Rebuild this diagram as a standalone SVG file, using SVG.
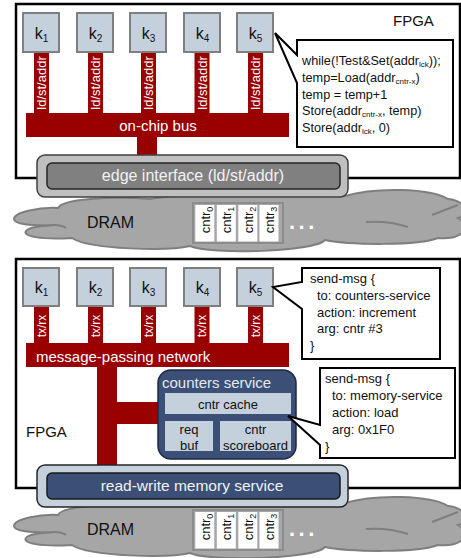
<svg xmlns="http://www.w3.org/2000/svg" width="461" height="558" viewBox="0 0 461 558">
  <style>
    text { font-family: "Liberation Sans", Arial, sans-serif; }
    .frame { fill: #ffffff; stroke: #000000; stroke-width: 2.5; }
    .kbox { fill: #c4d0dc; stroke: #7f7f7f; stroke-width: 2; }
    .ktxt { font-size: 16px; fill: #111111; text-anchor: middle; }
    .red { fill: #990000; }
    .stem { font-size: 13px; fill: #ffffff; text-anchor: middle; }
    .bar { font-size: 15px; fill: #ffffff; }
    .callout { fill: #ffffff; stroke: #000000; stroke-width: 2; stroke-linejoin: miter; }
    .code { font-size: 13px; fill: #111111; }
    .code-sm { font-size: 12.7px; fill: #111111; }
    .label { font-size: 15px; fill: #111111; }
    .cloud { fill: #a6a6a6; stroke: #7f7f7f; stroke-width: 2; }
    .fold { fill: none; stroke: #7f7f7f; stroke-width: 2; }
    .cbox { fill: #ffffff; }
    .ctxt { font-size: 13px; fill: #111111; text-anchor: middle; }
    .svc { fill: #3b4f77; stroke: #1c2a44; stroke-width: 1.5; }
    .lite { fill: #c4d0dc; }
    .svtxt { font-size: 13px; fill: #111111; text-anchor: middle; }
  </style>
  <defs>
    <!-- DRAM cloud with its counter slots, reused by both panels -->
    <g id="dram">
      <path class="cloud" d="M 14 219 C 14 212, 40 207, 58 208 C 62 199, 110 196, 150 199 C 180 193, 320 192, 345 196 C 375 187, 430 188, 448 199 C 466 201, 470 214, 458 218 C 472 226, 464 240, 438 238 C 418 246, 350 245, 325 240 C 315 252, 210 255, 190 246 C 170 251, 90 250, 72 238 C 40 240, 22 236, 26 231 C 28 227, 40 226, 55 225 C 30 226, 14 224, 14 219 Z"/>
      <path class="fold" d="M 55 225 C 60 225, 63 226, 66 228"/>
      <path class="fold" d="M 366 222 C 380 221, 396 223, 408 227"/>
      <path class="fold" d="M 432 215 C 440 212, 450 208, 458 205"/>
      <text class="label" x="87" y="228" style="font-size:16px">DRAM</text>
      <rect x="193" y="203" width="90" height="40" fill="#a6a6a6" stroke="#8c8c8c" stroke-width="2"/>
      <rect class="cbox" x="195.3" y="205" width="19" height="36.5"/>
      <rect class="cbox" x="216.8" y="205" width="19" height="36.5"/>
      <rect class="cbox" x="238.3" y="205" width="19" height="36.5"/>
      <rect class="cbox" x="259.5" y="205" width="19" height="36.5"/>
      <text class="ctxt" transform="translate(209.8,220) rotate(-90)">cntr<tspan font-size="9" dy="3">0</tspan></text>
      <text class="ctxt" transform="translate(231.3,220) rotate(-90)">cntr<tspan font-size="9" dy="3">1</tspan></text>
      <text class="ctxt" transform="translate(252.8,220) rotate(-90)">cntr<tspan font-size="9" dy="3">2</tspan></text>
      <text class="ctxt" transform="translate(274,220) rotate(-90)">cntr<tspan font-size="9" dy="3">3</tspan></text>
      <text x="289" y="229" font-size="22" font-weight="bold" fill="#ffffff" letter-spacing="3.5">...</text>
    </g>
  </defs>

  <!-- ===== Top: shared-memory counter over an on-chip bus ===== -->
  <g id="fpga-top">
    <rect class="frame" x="16" y="4" width="444" height="174"/>
    <text class="label" x="393" y="26">FPGA</text>
  </g>

  <g id="connectors-top">
    <rect class="red" x="34" y="52" width="15" height="62"/>
    <rect class="red" x="88" y="52" width="15" height="62"/>
    <rect class="red" x="141" y="52" width="15" height="62"/>
    <rect class="red" x="194.5" y="52" width="15" height="62"/>
    <rect class="red" x="248" y="52" width="15" height="62"/>
    <text class="stem" transform="translate(46,83) rotate(-90)">ld/st/addr</text>
    <text class="stem" transform="translate(100,83) rotate(-90)">ld/st/addr</text>
    <text class="stem" transform="translate(153,83) rotate(-90)">ld/st/addr</text>
    <text class="stem" transform="translate(206.5,83) rotate(-90)">ld/st/addr</text>
    <text class="stem" transform="translate(260,83) rotate(-90)">ld/st/addr</text>
    <rect class="red" x="137" y="136" width="20" height="21"/>
  </g>

  <g id="bus-top">
    <rect class="red" x="26" y="113" width="263" height="24"/>
    <text class="bar" x="158" y="131" text-anchor="middle">on-chip bus</text>
  </g>

  <g id="k1-top"><rect class="kbox" x="23" y="13" width="36" height="39"/><text class="ktxt" x="41.5" y="39">k<tspan font-size="10" dy="3">1</tspan></text></g>
  <g id="k2-top"><rect class="kbox" x="77" y="13" width="36" height="39"/><text class="ktxt" x="95.5" y="39">k<tspan font-size="10" dy="3">2</tspan></text></g>
  <g id="k3-top"><rect class="kbox" x="130" y="13" width="36" height="39"/><text class="ktxt" x="148.5" y="39">k<tspan font-size="10" dy="3">3</tspan></text></g>
  <g id="k4-top"><rect class="kbox" x="184" y="13" width="36" height="39"/><text class="ktxt" x="202.5" y="39">k<tspan font-size="10" dy="3">4</tspan></text></g>
  <g id="k5-top"><rect class="kbox" x="237" y="13" width="36" height="39"/><text class="ktxt" x="255.5" y="39">k<tspan font-size="10" dy="3">5</tspan></text></g>

  <g id="callout-lock">
    <path class="callout" d="M 297 40 H 453 V 147 H 297 V 83 L 275 33 L 297 55 Z"/>
    <text class="code-sm" x="302" y="65">while(!Test&amp;Set(addr<tspan font-size="8" dy="2">lck</tspan><tspan dy="-2">));</tspan></text>
    <text class="code-sm" x="302" y="82">temp=Load(addr<tspan font-size="8" dy="2">cntr-x</tspan><tspan dy="-2">)</tspan></text>
    <text class="code-sm" x="302" y="99">temp = temp+1</text>
    <text class="code-sm" x="302" y="115">Store(addr<tspan font-size="8" dy="2">cntr-x</tspan><tspan dy="-2">, temp)</tspan></text>
    <text class="code-sm" x="302" y="132">Store(addr<tspan font-size="8" dy="2">lck</tspan><tspan dy="-2">, 0)</tspan></text>
  </g>

  <g id="dram-top"><use href="#dram"/></g>

  <g id="edge-interface">
    <rect x="37" y="155" width="311" height="42" rx="8" fill="#bfbfbf" stroke="#404040" stroke-width="1.5"/>
    <rect x="47" y="163" width="293" height="26" rx="5" fill="#808080" stroke="#262626" stroke-width="1.5"/>
    <text x="193" y="181" font-size="16" fill="#f2f2f2" text-anchor="middle">edge interface (ld/st/addr)</text>
  </g>

  <!-- ===== Bottom: message passing to a counters service ===== -->
  <g id="fpga-bottom">
    <rect class="frame" x="16" y="259" width="444" height="229"/>
    <text class="label" x="26" y="437">FPGA</text>
  </g>

  <g id="connectors-bottom">
    <rect class="red" x="34" y="306" width="15" height="38"/>
    <rect class="red" x="88" y="306" width="15" height="38"/>
    <rect class="red" x="141" y="306" width="15" height="38"/>
    <rect class="red" x="194.5" y="306" width="15" height="38"/>
    <rect class="red" x="248" y="306" width="15" height="38"/>
    <text class="stem" style="font-size:12px" transform="translate(45.5,326) rotate(-90)">tx/rx</text>
    <text class="stem" style="font-size:12px" transform="translate(99.5,326) rotate(-90)">tx/rx</text>
    <text class="stem" style="font-size:12px" transform="translate(152.5,326) rotate(-90)">tx/rx</text>
    <text class="stem" style="font-size:12px" transform="translate(206,326) rotate(-90)">tx/rx</text>
    <text class="stem" style="font-size:12px" transform="translate(259.5,326) rotate(-90)">tx/rx</text>
    <rect class="red" x="97" y="366" width="20" height="100"/>
    <rect class="red" x="116" y="402" width="44" height="22"/>
  </g>

  <g id="network">
    <rect class="red" x="26" y="343" width="263" height="24"/>
    <text class="bar" x="36" y="362">message-passing network</text>
  </g>

  <g id="k1-bottom"><rect class="kbox" x="23" y="268" width="36" height="38"/><text class="ktxt" x="41.5" y="293">k<tspan font-size="10" dy="3">1</tspan></text></g>
  <g id="k2-bottom"><rect class="kbox" x="77" y="268" width="36" height="38"/><text class="ktxt" x="95.5" y="293">k<tspan font-size="10" dy="3">2</tspan></text></g>
  <g id="k3-bottom"><rect class="kbox" x="130" y="268" width="36" height="38"/><text class="ktxt" x="148.5" y="293">k<tspan font-size="10" dy="3">3</tspan></text></g>
  <g id="k4-bottom"><rect class="kbox" x="184" y="268" width="36" height="38"/><text class="ktxt" x="202.5" y="293">k<tspan font-size="10" dy="3">4</tspan></text></g>
  <g id="k5-bottom"><rect class="kbox" x="237" y="268" width="36" height="38"/><text class="ktxt" x="255.5" y="293">k<tspan font-size="10" dy="3">5</tspan></text></g>

  <g id="counters-service">
    <rect class="svc" x="158" y="370" width="138" height="89" rx="13"/>
    <text x="162" y="388" font-size="15" fill="#e4eaf1">counters service</text>
    <rect class="lite" x="165" y="393" width="126" height="21"/>
    <text class="svtxt" x="228" y="409">cntr cache</text>
    <rect class="lite" x="165" y="421" width="48" height="30"/>
    <text class="svtxt" x="189" y="434">req</text>
    <text class="svtxt" x="189" y="450">buf</text>
    <rect class="lite" x="220" y="421" width="71" height="30"/>
    <text class="svtxt" x="255.5" y="434">cntr</text>
    <text class="svtxt" x="255.5" y="450">scoreboard</text>
  </g>

  <g id="callout-increment">
    <path class="callout" d="M 302 268 H 440 V 359 H 302 V 309 L 273 287 L 302 282 Z"/>
    <text class="code" x="310" y="283">send-msg {</text>
    <text class="code" x="317" y="300">to: counters-service</text>
    <text class="code" x="317" y="317">action: increment</text>
    <text class="code" x="317" y="333">arg: cntr #3</text>
    <text class="code" x="310" y="350">}</text>
  </g>

  <g id="callout-load">
    <path class="callout" d="M 320 368 H 455 V 458 H 320 V 445 L 288 416 L 320 425 Z"/>
    <text class="code" x="325" y="383">send-msg {</text>
    <text class="code" x="332" y="400">to: memory-service</text>
    <text class="code" x="332" y="417">action: load</text>
    <text class="code" x="332" y="434">arg: 0x1F0</text>
    <text class="code" x="325" y="451">}</text>
  </g>

  <g id="dram-bottom"><use href="#dram" transform="translate(0,307)"/></g>

  <g id="memory-service">
    <rect x="37" y="465" width="311" height="42" rx="8" fill="#c4d0dc" stroke="#262626" stroke-width="1.5"/>
    <rect x="47" y="473" width="293" height="26" rx="5" fill="#3b4f77" stroke="#1a1a1a" stroke-width="1.5"/>
    <text x="192" y="491" font-size="15.5" fill="#f2f2f2" text-anchor="middle">read-write memory service</text>
  </g>
</svg>
